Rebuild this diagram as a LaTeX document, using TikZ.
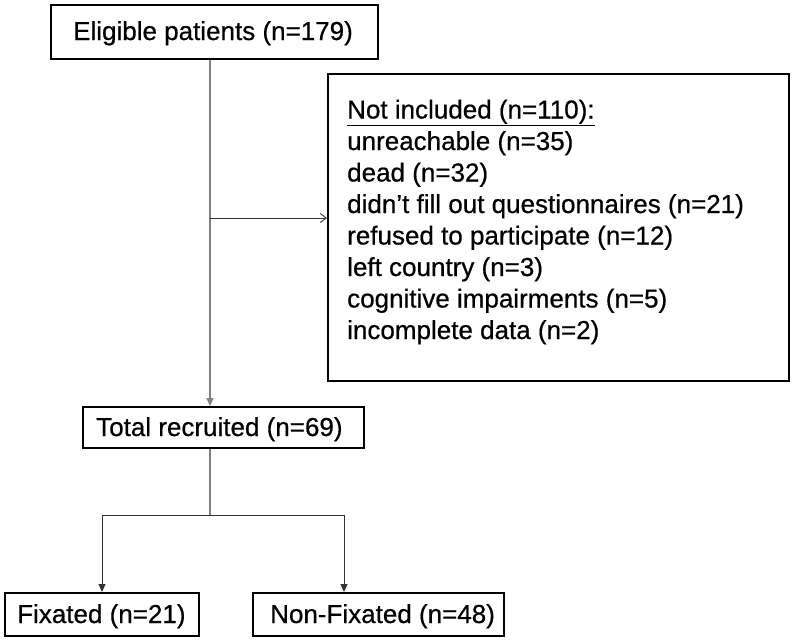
\documentclass[tikz,border=0pt]{standalone}
\usepackage{fontspec}
\setmainfont{Liberation Sans}[BoldFont=Liberation Sans,BoldFeatures={FakeBold=0.6}]
\usetikzlibrary{arrows.meta}
\begin{document}
\begin{tikzpicture}[x=1pt,y=-1pt,
  box/.style={draw=black,line width=1.5pt,rectangle,inner sep=0pt,anchor=north west},
  txt/.style={inner sep=0pt,anchor=base west,font=\fontsize{26}{31.5}\selectfont\bfseries},
  vline/.style={draw=black!50,line width=1.1pt},
  hline/.style={draw=black!80,line width=0.9pt},
  filltip/.style={-{Triangle[width=7pt,length=8pt]}},
  opentip/.style={-{Straight Barb[width=9pt,length=6pt,line width=0.9pt]}}]
\useasboundingbox (0,0) rectangle (793,640);
\fill[white] (0,0) rectangle (793,640);
% boxes
\node[box,minimum width=327pt,minimum height=54pt] (elig) at (50,4) {};
\node[txt] (eligt) at (73,40) {Eligible patients (n=179)};
\node[box,minimum width=461pt,minimum height=307pt] (ni) at (327,73) {};
\node[txt] (n0) at (347,118.5) {\underline{Not included (n=110):}};
\node[txt] (n1) at (347,150) {unreachable (n=35)};
\node[txt] (n2) at (347,181.5) {dead (n=32)};
\node[txt] (n3) at (347,213) {didn’t fill out questionnaires (n=21)};
\node[txt] (n4) at (347,244.5) {refused to participate (n=12)};
\node[txt] (n5) at (347,276) {left country (n=3)};
\node[txt] (n6) at (347,307.5) {cognitive impairments (n=5)};
\node[txt] (n7) at (347,339) {incomplete data (n=2)};
\node[box,minimum width=281pt,minimum height=41pt] (tot) at (82,406) {};
\node[txt] (tott) at (96,436) {Total recruited (n=69)};
\node[box,minimum width=194pt,minimum height=43pt] (fix) at (4,592) {};
\node[txt] (fixt) at (17,623) {Fixated (n=21)};
\node[box,minimum width=251pt,minimum height=43pt] (nfx) at (252,592) {};
\node[txt] (nfxt) at (270,623) {Non-Fixated (n=48)};
% junctions
\coordinate (j1) at (210,218);
\coordinate (j2) at (210,515);
\coordinate (jl) at (102,515);
\coordinate (jr) at (344,515);
% connectors
\draw[vline] (elig.south -| j1) -- (j1);
\draw[vline,filltip] (j1) -- (tot.north -| j1);
\draw[hline,opentip] (j1) -- (ni.west |- j1);
\draw[vline] (tot.south -| j2) -- (j2);
\draw[hline] (jl) -- (jr);
\draw[hline,filltip] (jl) -- (fix.north -| jl);
\draw[hline,filltip] (jr) -- (nfx.north -| jr);
\end{tikzpicture}
\end{document}
